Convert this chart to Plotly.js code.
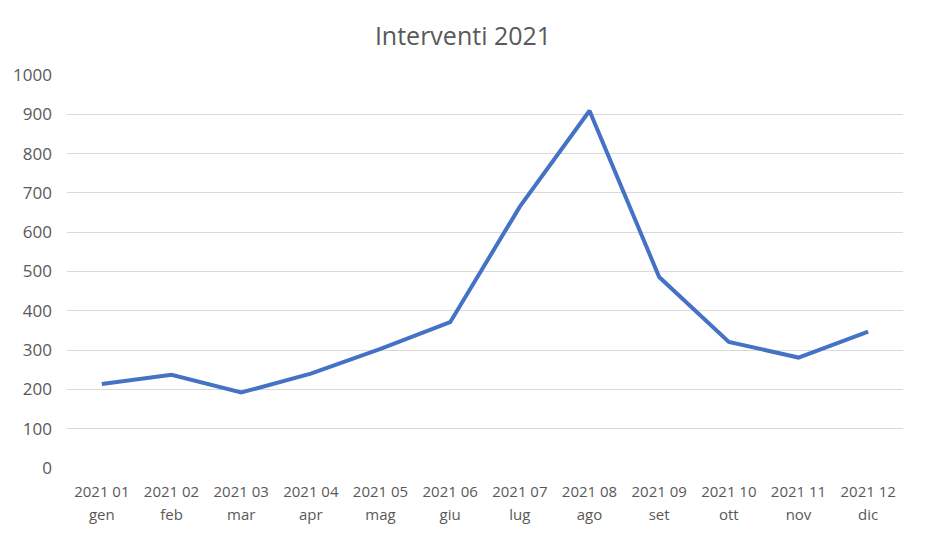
<!DOCTYPE html>
<html>
<head>
<meta charset="utf-8">
<script src="https://cdn.plot.ly/plotly-3.0.1.min.js"></script>
<style>html,body{margin:0;padding:0;background:#fff;}#chart{width:926px;height:538px;}</style>
</head>
<body>
<div id="chart"></div>
<script>
const monthCodes = ["2021 01","2021 02","2021 03","2021 04","2021 05","2021 06","2021 07","2021 08","2021 09","2021 10","2021 11","2021 12"];
const monthNames = ["gen","feb","mar","apr","mag","giu","lug","ago","set","ott","nov","dic"];
const interventi = [214, 237, 192, 240, 303, 371, 665, 909, 486, 321, 281, 347];
const yTicks = [0,100,200,300,400,500,600,700,800,900,1000];

const sp = s => '<span style="font-size:15px">' + s + '</span>';
const xText = monthCodes.map((c, i) => sp(c) + '<br>' + sp(monthNames[i]));

const trace = {
  x: monthCodes,
  y: interventi,
  type: 'scatter',
  mode: 'lines',
  line: {color: '#4472C4', width: 4},
  hoverinfo: 'x+y'
};
const layout = {
  width: 926, height: 538,
  margin: {l: 67, r: 23, t: 75, b: 70},
  paper_bgcolor: '#ffffff', plot_bgcolor: '#ffffff',
  font: {family: '"Open Sans", "Liberation Sans", sans-serif', color: '#595959', size: 14},
  title: {text: 'Interventi 2021', x: 0.5, xanchor: 'center', y: 0.933, yanchor: 'middle', font: {size: 25, color: '#595959'}},
  showlegend: false,
  xaxis: {
    type: 'category', range: [-0.5, 11.5], showgrid: false, zeroline: false, showline: false,
    tickvals: monthCodes, ticktext: xText,
    ticks: '', tickfont: {size: 18, color: '#595959'}, ticklabelstandoff: 10, automargin: false
  },
  yaxis: {
    range: [0, 1000], tickvals: yTicks, ticktext: yTicks.map(String),
    showgrid: true, gridcolor: '#d9d9d9', gridwidth: 1, zeroline: false, showline: false,
    ticks: '', ticklen: 0, tickfont: {size: 17, color: '#595959'}, ticklabelstandoff: 14, automargin: false
  }
};
Plotly.newPlot('chart', [trace], layout, {displayModeBar: false, responsive: false});
</script>
</body>
</html>
